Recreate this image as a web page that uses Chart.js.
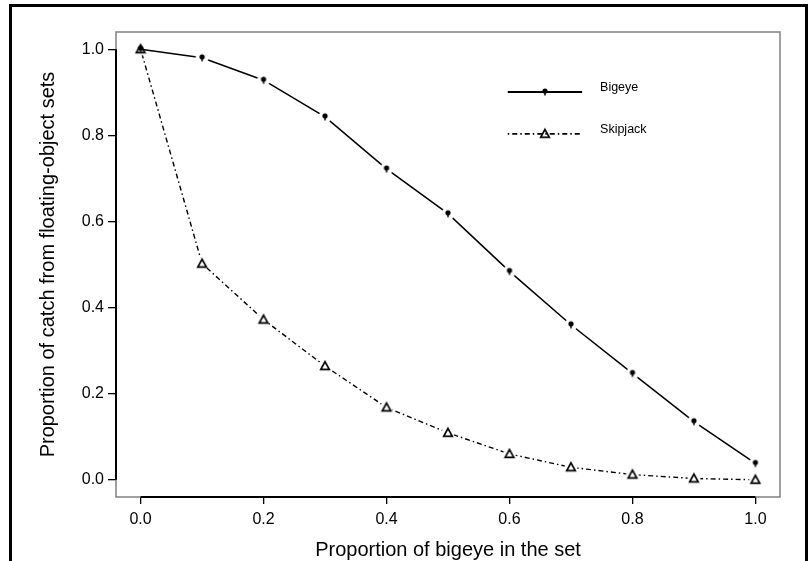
<!DOCTYPE html>
<html lang="en">
<head>
<meta charset="UTF-8">
<title>Proportion of catch from floating-object sets</title>
<script src="https://cdn.jsdelivr.net/npm/chart.js"></script>
<style>
  body { margin: 0; background: #fff; }
  #wrap { position: relative; width: 809px; height: 561px; overflow: hidden; }
  #frame { position: absolute; left: 9px; top: 4px; width: 799px; height: 620px; border: 3px solid #000; box-sizing: border-box; }
  #chart { position: absolute; left: 0; top: 0; }
</style>
</head>
<body>
<div id="wrap">
  <div id="frame"></div>
  <canvas id="chart" width="809" height="561"></canvas>
</div>
<script>
    // Data
    const proportions = [0.0, 0.1, 0.2, 0.3, 0.4, 0.5, 0.6, 0.7, 0.8, 0.9, 1.0];
    const bigeye   = [1.0, 0.980, 0.928, 0.843, 0.722, 0.618, 0.484, 0.360, 0.247, 0.135, 0.038];
    const skipjack = [1.0, 0.502, 0.372, 0.264, 0.168, 0.109, 0.060, 0.029, 0.012, 0.003, 0.0];
    const seriesNames = ['Bigeye', 'Skipjack'];
    const xTicks = [0.0, 0.2, 0.4, 0.6, 0.8, 1.0];
    const yTicks = [0.0, 0.2, 0.4, 0.6, 0.8, 1.0];

    Chart.defaults.font.family = "'Liberation Sans', Arial, Helvetica, sans-serif";
    Chart.defaults.color = '#000';

    // small canvas markers; the white halo leaves the gap in the line around each point
    function makeMarker(kind, halo) {
        const c = document.createElement('canvas');
        c.width = 16; c.height = 16;
        const g = c.getContext('2d');
        if (halo) {
            g.fillStyle = '#fff';
            g.beginPath(); g.arc(8, 8, 6.5, 0, Math.PI * 2); g.fill();
        }
        g.fillStyle = '#000';
        g.strokeStyle = '#000';
        if (kind === 'pin') {
            g.beginPath(); g.arc(8, 7, 2.6, 0, Math.PI * 2); g.fill();
            g.lineWidth = 1.5;
            g.beginPath(); g.moveTo(8, 8); g.lineTo(8, 11.5); g.stroke();
        } else {
            g.lineWidth = 1.7;
            g.beginPath();
            g.moveTo(8, 3.6); g.lineTo(12.3, 11.4); g.lineTo(3.7, 11.4); g.closePath();
            g.stroke();
        }
        return c;
    }

    const pinHalo = makeMarker('pin', true);
    const pinPlain = makeMarker('pin', false);
    const triHalo = makeMarker('tri', true);
    const triPlain = makeMarker('tri', false);

    // first bigeye point sits on top of the skipjack triangle, so no halo there
    const bigeyeStyles = proportions.map((p, i) => i === 0 ? pinPlain : pinHalo);

    // gray box round the plot, black axis lines from first to last tick
    const boxPlugin = {
        id: 'box',
        beforeDatasetsDraw(chart) {
            const { ctx, chartArea: a, scales } = chart;
            ctx.save();
            ctx.strokeStyle = '#808080';
            ctx.lineWidth = 1.5;
            ctx.strokeRect(a.left, a.top, a.right - a.left, a.bottom - a.top);
            ctx.strokeStyle = '#000';
            ctx.lineWidth = 2;
            ctx.beginPath();
            ctx.moveTo(a.left, scales.y.getPixelForValue(yTicks[0]));
            ctx.lineTo(a.left, scales.y.getPixelForValue(yTicks[yTicks.length - 1]));
            ctx.moveTo(scales.x.getPixelForValue(xTicks[0]), a.bottom);
            ctx.lineTo(scales.x.getPixelForValue(xTicks[xTicks.length - 1]), a.bottom);
            ctx.stroke();
            ctx.restore();
        }
    };

    // legend inside the plot, as in the original
    const legendSpots = [
        { fy: 0.129, marker: pinPlain },
        { fy: 0.219, marker: triPlain }
    ];
    const insideLegend = {
        id: 'insideLegend',
        afterDatasetsDraw(chart) {
            const { ctx, chartArea: a } = chart;
            const w = a.right - a.left, h = a.bottom - a.top;
            const x0 = a.left + w * 0.590, x1 = a.left + w * 0.702, xt = a.left + w * 0.729;
            ctx.save();
            chart.data.datasets.forEach((ds, i) => {
                const y = a.top + h * legendSpots[i].fy;
                ctx.strokeStyle = '#000';
                ctx.lineWidth = ds.borderWidth + 0.3;
                ctx.setLineDash(ds.borderDash || []);
                ctx.beginPath(); ctx.moveTo(x0, y); ctx.lineTo(x1, y); ctx.stroke();
                ctx.setLineDash([]);
                const m = legendSpots[i].marker;
                ctx.drawImage(m, (x0 + x1) / 2 - m.width / 2, y - m.height / 2);
                ctx.fillStyle = '#000';
                ctx.font = "12.5px 'Liberation Sans', Arial, sans-serif";
                ctx.textBaseline = 'middle';
                ctx.fillText(ds.label, xt, y - 4);
            });
            ctx.restore();
        }
    };

    new Chart(document.getElementById('chart'), {
        type: 'line',
        data: {
            datasets: [
                {
                    label: seriesNames[0],
                    data: proportions.map((p, i) => ({ x: p, y: bigeye[i] })),
                    borderColor: '#000',
                    borderWidth: 1.5,
                    pointStyle: bigeyeStyles,
                    pointRadius: 6,
                    fill: false,
                    tension: 0
                },
                {
                    label: seriesNames[1],
                    data: proportions.map((p, i) => ({ x: p, y: skipjack[i] })),
                    borderColor: '#000',
                    borderWidth: 1.4,
                    borderDash: [1.5, 3, 5, 3],
                    pointStyle: triHalo,
                    pointRadius: 6,
                    fill: false,
                    tension: 0
                }
            ]
        },
        options: {
            responsive: false,
            animation: false,
            plugins: { legend: { display: false }, tooltip: { enabled: false } },
            layout: { padding: { left: 0, top: 32, right: 29, bottom: 0 } },
            scales: {
                x: {
                    type: 'linear',
                    min: -0.04,
                    max: 1.04,
                    afterBuildTicks: s => { s.ticks = xTicks.map(v => ({ value: v })); },
                    afterFit: s => { s.height = 64; },
                    grid: { drawOnChartArea: false, tickLength: 7, color: '#000', lineWidth: 1.3 },
                    border: { display: false },
                    ticks: { padding: 6, font: { size: 16 }, color: '#000', maxRotation: 0, autoSkip: false,
                             callback: v => v.toFixed(1) },
                    title: { display: true, text: 'Proportion of bigeye in the set', color: '#000',
                             font: { size: 20, lineHeight: 1 }, padding: { top: 0, bottom: 1 } }
                },
                y: {
                    type: 'linear',
                    min: -0.04,
                    max: 1.04,
                    afterBuildTicks: s => { s.ticks = yTicks.map(v => ({ value: v })); },
                    afterFit: s => { s.width = 116; },
                    grid: { drawOnChartArea: false, tickLength: 8, color: '#000', lineWidth: 1.3 },
                    border: { display: false },
                    ticks: { padding: 4, font: { size: 16 }, color: '#000', autoSkip: false,
                             callback: v => v.toFixed(1) },
                    title: { display: true, text: 'Proportion of catch from floating-object sets', color: '#000',
                             font: { size: 20, lineHeight: 1 }, padding: { top: 38, bottom: 0 } }
                }
            }
        },
        plugins: [boxPlugin, insideLegend]
    });
</script>
</body>
</html>
